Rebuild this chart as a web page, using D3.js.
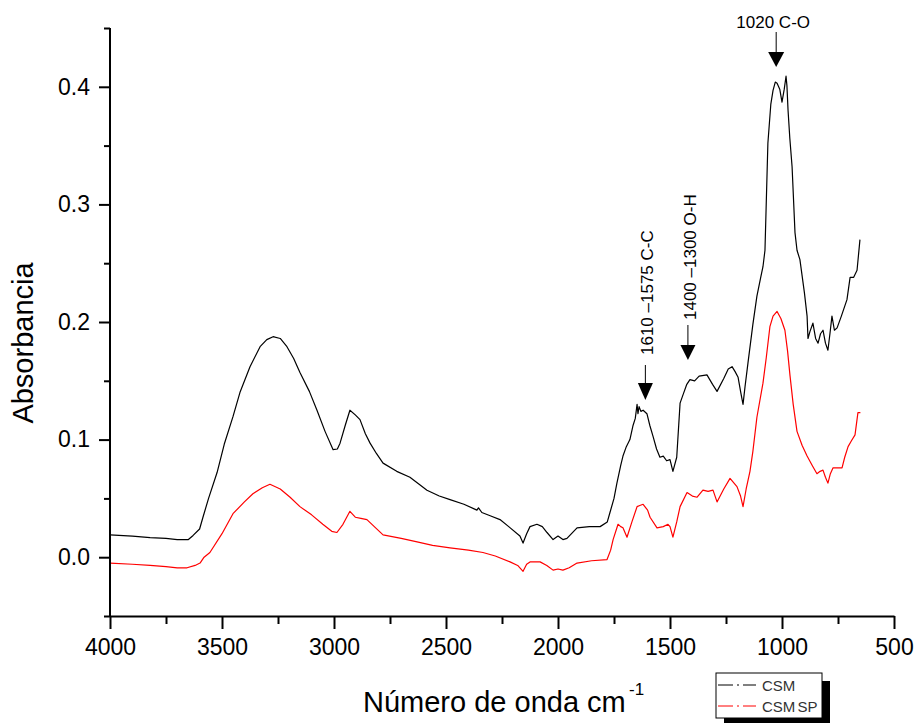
<!DOCTYPE html>
<html><head><meta charset="utf-8">
<script src="https://cdn.jsdelivr.net/npm/d3@7"></script>
<style>body{margin:0;background:#fff}svg{display:block;font-family:"Liberation Sans",Arial,sans-serif}</style>
</head><body><svg id="c" width="917" height="723"></svg>
<script>
// CSM spectrum (wavenumber cm-1, absorbance)
const csmWave = [4000,3900,3821,3750,3700,3650,3629,3600,3585,3560,3522,3490,3451,3420,3375,3330,3300,3272,3240,3210,3180,3152,3110,3076,3040,3004,2985,2973,2950,2929,2905,2884,2860,2839,2810,2781,2720,2661,2620,2585,2530,2482,2420,2362,2355,2340,2300,2259,2220,2170,2156,2140,2125,2094,2070,2049,2022,2000,1978,1960,1915,1860,1812,1780,1768,1750,1737,1720,1710,1695,1679,1665,1655,1647,1643,1638,1630,1620,1603,1590,1576,1560,1545,1530,1515,1500,1487,1470,1455,1442,1425,1411,1390,1370,1335,1310,1290,1260,1240,1223,1210,1196,1184,1174,1165,1152,1130,1112,1095,1085,1076,1063,1050,1040,1030,1022,1010,1000,990,982,978,973,965,955,942,933,920,900,888,884,875,862,850,839,828,817,806,795,786,777,766,754,735,710,696,680,665,652];
const csmAbs = [0.019,0.018,0.0166,0.016,0.015,0.015,0.0185,0.024,0.034,0.05,0.072,0.096,0.1195,0.14,0.162,0.179,0.185,0.1875,0.186,0.179,0.169,0.157,0.141,0.125,0.107,0.0914,0.092,0.097,0.112,0.125,0.121,0.117,0.105,0.097,0.088,0.080,0.073,0.068,0.062,0.057,0.052,0.049,0.045,0.040,0.042,0.038,0.035,0.032,0.026,0.018,0.012,0.02,0.026,0.028,0.026,0.021,0.015,0.018,0.015,0.016,0.025,0.026,0.026,0.03,0.038,0.05,0.063,0.078,0.086,0.094,0.100,0.112,0.118,0.130,0.122,0.128,0.124,0.125,0.122,0.112,0.103,0.092,0.085,0.086,0.082,0.083,0.073,0.085,0.131,0.138,0.147,0.151,0.150,0.154,0.155,0.147,0.141,0.152,0.160,0.162,0.158,0.153,0.140,0.130,0.145,0.165,0.198,0.222,0.238,0.247,0.261,0.352,0.385,0.397,0.404,0.403,0.398,0.387,0.398,0.409,0.401,0.380,0.356,0.332,0.276,0.261,0.253,0.225,0.205,0.186,0.192,0.199,0.186,0.182,0.190,0.193,0.182,0.176,0.190,0.205,0.193,0.195,0.205,0.219,0.238,0.238,0.244,0.270];

// CSM SP spectrum
const cspWave = [4000,3900,3821,3750,3700,3656,3620,3598,3580,3554,3500,3451,3400,3362,3320,3286,3240,3196,3152,3100,3050,3010,2987,2960,2929,2905,2880,2853,2820,2781,2700,2629,2560,2482,2400,2335,2280,2214,2180,2156,2140,2125,2080,2050,2022,2000,1978,1950,1915,1850,1781,1765,1754,1732,1720,1710,1692,1670,1647,1635,1620,1600,1589,1558,1530,1509,1500,1487,1470,1455,1424,1400,1379,1353,1330,1308,1290,1260,1232,1201,1185,1174,1160,1143,1130,1112,1085,1070,1054,1040,1022,1005,987,975,964,950,933,910,888,865,844,830,817,806,795,784,772,750,732,720,705,690,674,661,650];
const cspAbs = [-0.005,-0.006,-0.007,-0.008,-0.009,-0.009,-0.007,-0.005,0.0,0.004,0.02,0.037,0.047,0.054,0.059,0.062,0.058,0.051,0.043,0.036,0.028,0.022,0.021,0.028,0.039,0.034,0.033,0.032,0.026,0.019,0.016,0.013,0.010,0.008,0.006,0.004,0.001,-0.004,-0.007,-0.012,-0.006,-0.004,-0.004,-0.007,-0.011,-0.010,-0.011,-0.009,-0.005,-0.003,-0.002,0.006,0.015,0.028,0.026,0.025,0.017,0.03,0.043,0.044,0.045,0.04,0.034,0.025,0.026,0.028,0.026,0.017,0.03,0.043,0.055,0.052,0.051,0.057,0.056,0.057,0.047,0.058,0.067,0.060,0.052,0.043,0.058,0.073,0.09,0.119,0.148,0.17,0.196,0.205,0.209,0.203,0.193,0.175,0.154,0.13,0.107,0.095,0.086,0.078,0.071,0.073,0.074,0.068,0.063,0.071,0.076,0.076,0.076,0.085,0.094,0.099,0.104,0.123,0.123];

const xTicks = [4000,3500,3000,2500,2000,1500,1000,500];
const xMinor = [3750,3250,2750,2250,1750,1250,750];
const yTicks = [0.0,0.1,0.2,0.3,0.4];
const yMinor = [-0.05,0.05,0.15,0.25,0.35,0.45];
const seriesNames = ["CSM","CSM SP"];
const seriesColors = ["#000000","#ff0000"];
const annotations = [
  {label:"1020 C-O", wave:1026},
  {label:"1610 \u20131575 C-C", wave:1610},
  {label:"1400 \u20131300 O-H", wave:1420}
];

const svg = d3.select("#c");
const L=110, R=894, T=28, B=616;
const x = d3.scaleLinear().domain([4000,500]).range([L,R]);
const y = d3.scaleLinear().domain([-0.05,0.45]).range([B,T]);

// series
const line = d3.line().x(d=>x(d[0])).y(d=>y(d[1]));
const sets = [d3.zip(csmWave,csmAbs), d3.zip(cspWave,cspAbs)];
sets.forEach((s,i)=>{
  svg.append("path").datum(s).attr("d",line).attr("fill","none")
    .attr("stroke",seriesColors[i]).attr("stroke-width",1.2).attr("stroke-linejoin","round");
});

// axes
function styleAxis(g){
  g.selectAll(".domain").attr("stroke","#000").attr("stroke-width",2);
  g.selectAll(".tick line").attr("stroke","#000").attr("stroke-width",2);
  g.selectAll("text").attr("font-size",23).attr("fill","#000").attr("font-family","'Liberation Sans',Arial,sans-serif");
}
const gx = svg.append("g").attr("transform",`translate(0,${B})`)
  .call(d3.axisBottom(x).tickValues(xTicks).tickSize(13).tickSizeOuter(0).tickPadding(10).tickFormat(d3.format("d")));
styleAxis(gx);
const gxm = svg.append("g").attr("transform",`translate(0,${B})`)
  .call(d3.axisBottom(x).tickValues(xMinor).tickSize(8).tickFormat(""));
styleAxis(gxm); gxm.select(".domain").remove();
const gy = svg.append("g").attr("transform",`translate(${L},0)`)
  .call(d3.axisLeft(y).tickValues(yTicks).tickSize(11).tickSizeOuter(0).tickPadding(9).tickFormat(d3.format(".1f")));
styleAxis(gy);
gy.select(".domain").attr("d",`M0,${T}V${B}`);
const gym = svg.append("g").attr("transform",`translate(${L},0)`)
  .call(d3.axisLeft(y).tickValues(yMinor).tickSize(6).tickFormat(""));
styleAxis(gym); gym.select(".domain").remove();

// axis titles
svg.append("text").attr("transform","translate(33,343) rotate(-90)").attr("text-anchor","middle")
  .attr("font-size",29).text("Absorbancia");
const xt = svg.append("text").attr("x",363).attr("y",712).attr("text-anchor","start").attr("font-size",29);
xt.append("tspan").text("Número de onda cm");
xt.append("tspan").attr("x",629).attr("y",695).attr("font-size",17).text("-1");

// annotations
const annGeom = [
  {rot:false, textPos:28, lineTop:32, lineBot:53, triBot:67, half:8},
  {rot:true, textPos:355, lineTop:365, lineBot:384, triBot:400, half:7.5},
  {rot:true, textPos:320, lineTop:325, lineBot:346, triBot:360, half:7.5}
];
annotations.forEach((a,i)=>{
  const ax = x(a.wave), g = annGeom[i];
  if(!g.rot){
    svg.append("text").attr("x",ax-3).attr("y",g.textPos).attr("text-anchor","middle").attr("font-size",17).text(a.label);
  } else {
    svg.append("text").attr("transform",`translate(${ax+8},${g.textPos}) rotate(-90)`).attr("text-anchor","start")
      .attr("font-size",17).text(a.label);
  }
  svg.append("line").attr("x1",ax).attr("x2",ax).attr("y1",g.lineTop).attr("y2",g.lineBot).attr("stroke","#000").attr("stroke-width",1);
  svg.append("path").attr("d",`M${ax-g.half},${g.lineBot-1}L${ax+g.half},${g.lineBot-1}L${ax},${g.triBot}Z`).attr("fill","#000");
});

// legend
const lg = svg.append("g");
lg.append("rect").attr("x",724).attr("y",681).attr("width",106).attr("height",45).attr("fill","#000");
lg.append("rect").attr("x",716).attr("y",673).attr("width",106).attr("height",45).attr("fill","#fff").attr("stroke","#000").attr("stroke-width",1);
seriesNames.forEach((n,i)=>{
  const yy = 685 + i*21;
  lg.append("line").attr("x1",718).attr("x2",756).attr("y1",yy).attr("y2",yy)
    .attr("stroke",seriesColors[i]).attr("stroke-width",1).attr("stroke-dasharray","15,4,2,4,15");
  lg.append("text").attr("x",762).attr("y",yy+6).attr("font-size",15).attr("word-spacing",-2).attr("fill","#333").text(n);
});
</script></body></html>
